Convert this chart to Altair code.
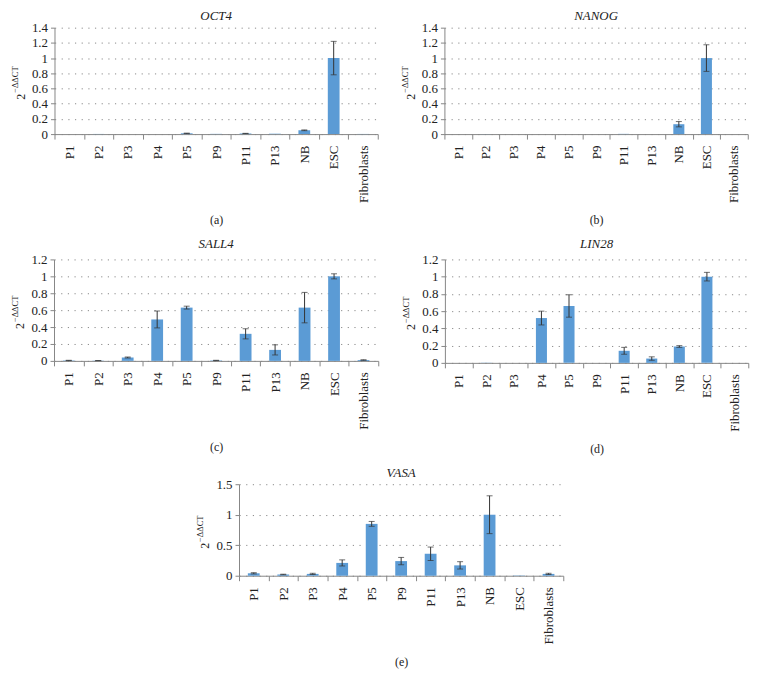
import altair as alt
import pandas as pd

categories = ["P1", "P2", "P3", "P4", "P5", "P9", "P11", "P13", "NB", "ESC", "Fibroblasts"]

oct4_values = [0.0, 0.002, 0.0, 0.0, 0.01, 0.003, 0.008, 0.005, 0.05, 1.0, 0.002]
oct4_errors = [0.0, 0.0, 0.0, 0.0, 0.003, 0.0, 0.002, 0.0, 0.005, 0.22, 0.0]

nanog_values = [0.0, 0.001, 0.0, 0.0, 0.0, 0.0, 0.003, 0.0, 0.13, 1.0, 0.0]
nanog_errors = [0.0, 0.0, 0.0, 0.0, 0.0, 0.0, 0.0, 0.0, 0.035, 0.175, 0.0]

sall4_values = [0.005, 0.003, 0.04, 0.49, 0.63, 0.005, 0.32, 0.13, 0.63, 1.0, 0.01]
sall4_errors = [0.002, 0.001, 0.006, 0.1, 0.017, 0.002, 0.06, 0.06, 0.18, 0.03, 0.003]

lin28_values = [0.0, 0.002, 0.002, 0.52, 0.66, 0.0, 0.14, 0.05, 0.19, 1.0, 0.0]
lin28_errors = [0.0, 0.0, 0.0, 0.08, 0.13, 0.0, 0.04, 0.02, 0.01, 0.05, 0.0]

vasa_values = [0.04, 0.02, 0.03, 0.21, 0.85, 0.24, 0.36, 0.17, 1.0, 0.005, 0.03]
vasa_errors = [0.01, 0.005, 0.01, 0.05, 0.04, 0.06, 0.11, 0.06, 0.31, 0.0, 0.01]

genes = ["OCT4", "NANOG", "SALL4", "LIN28", "VASA"]
captions = ["(a)", "(b)", "(c)", "(d)", "(e)"]
y_ticks_14 = [0, 0.2, 0.4, 0.6, 0.8, 1.0, 1.2, 1.4]
y_ticks_12 = [0, 0.2, 0.4, 0.6, 0.8, 1.0, 1.2]
y_ticks_15 = [0, 0.5, 1.0, 1.5]
y_title_base = "2"
y_title_sup = "\u2212\u0394\u0394CT"

FONT = "Liberation Serif"
BLUE = "#5B9BD5"
AXIS_GRAY = "#868686"
ERR = "#333333"


def panel(gene, caption, values, errors, yticks, width, height, title_offset):
    df = pd.DataFrame({"cat": categories, "val": values, "err": errors})
    df["lo"] = df["val"] - df["err"]
    df["hi"] = df["val"] + df["err"]
    ymax = yticks[-1]
    xaxis = alt.Axis(
        title=caption,
        labelAngle=-90,
        labelAlign="right",
        labelBaseline="middle",
        tickBand="extent",
        tickSize=5,
        labelPadding=6,
        titlePadding=12,
        grid=False,
        labelOverlap=False,
    )
    xscale = alt.Scale(domain=categories, paddingInner=0, paddingOuter=0)
    yaxis = alt.Axis(
        title=None,
        values=yticks,
        format=".1~f",
        grid=True,
        gridDash=[1.2, 5.5],
        gridColor="#8a8a8a",
        gridWidth=1,
        tickSize=4,
        labelPadding=3,
        labelOverlap=False,
    )
    yscale = alt.Scale(domain=[0, ymax], nice=False, zero=True)

    def X():
        return alt.X("cat:N", scale=xscale, axis=xaxis)

    def Y(field):
        return alt.Y(field, type="quantitative", scale=yscale, axis=yaxis)

    base = alt.Chart(df)
    bars = base.mark_bar(color=BLUE, width=alt.RelativeBandSize(0.4)).encode(x=X(), y=Y("val"))
    errdf = base.transform_filter("datum.err > 0")
    rule = errdf.mark_rule(color=ERR, strokeWidth=1).encode(x=X(), y=Y("lo"), y2="hi")
    cap_lo = errdf.mark_tick(color=ERR, thickness=1, size=6).encode(x=X(), y=Y("lo"))
    cap_hi = errdf.mark_tick(color=ERR, thickness=1, size=6).encode(x=X(), y=Y("hi"))
    t_base = alt.Chart(pd.DataFrame({"t": [y_title_base]})).mark_text(
        angle=270, align="right", baseline="middle", font=FONT, fontSize=12, color="#222"
    ).encode(x=alt.value(-34), y=alt.value(height / 2 + 13), text="t:N")
    t_sup = alt.Chart(pd.DataFrame({"t": [y_title_sup]})).mark_text(
        angle=270, align="left", baseline="middle", font=FONT, fontSize=8.5, color="#222"
    ).encode(x=alt.value(-39.5), y=alt.value(height / 2 + 12), text="t:N")
    return alt.layer(bars, rule, cap_lo, cap_hi, t_base, t_sup).properties(
        width=width,
        height=height,
        title=alt.TitleParams(
            gene, font=FONT, fontStyle="italic", fontWeight="normal", fontSize=13,
            color="#222", offset=title_offset
        ),
    )


pa = panel(genes[0], captions[0], oct4_values, oct4_errors, y_ticks_14, 325, 107, -1)
pb = panel(genes[1], captions[1], nanog_values, nanog_errors, y_ticks_14, 305, 107, -1)
pc = panel(genes[2], captions[2], sall4_values, sall4_errors, y_ticks_12, 326, 102, 2.5)
pd_ = panel(genes[3], captions[3], lin28_values, lin28_errors, y_ticks_12, 305, 104, 2.5)
pe = panel(genes[4], captions[4], vasa_values, vasa_errors, y_ticks_15, 326, 92, -1.5)

row1 = alt.hconcat(pa, pb, spacing=22)
row2 = alt.hconcat(pc, pd_, spacing=22)
chart = alt.vconcat(
    row1, row2, pe, spacing=12, center=True,
    padding={"left": 2, "top": 0, "right": 5, "bottom": 0},
).configure_axis(
    labelFont=FONT,
    labelFontSize=13,
    labelColor="#222",
    titleFont=FONT,
    titleFontSize=12,
    titleFontWeight="normal",
    titleColor="#222",
    domainColor=AXIS_GRAY,
    tickColor=AXIS_GRAY,
).configure_view(stroke=None)

chart.save("out.html", embed_options={"renderer": "svg", "actions": False})
